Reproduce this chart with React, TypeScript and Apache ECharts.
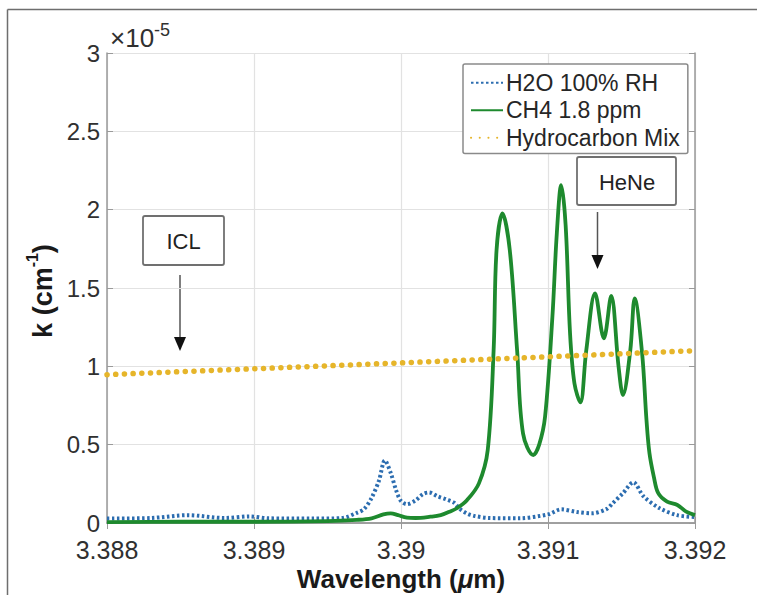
import React, { useEffect, useRef } from "react";
import * as echarts from "echarts";

// wavelength (µm) and absorption k (×1e-5 cm^-1)
const h2oWavelength = [3.388, 3.3883, 3.38855, 3.3888, 3.38897, 3.3891, 3.3894, 3.3896, 3.3897, 3.38975, 3.3898, 3.38985, 3.38989, 3.38993, 3.38997, 3.39, 3.39004, 3.3901, 3.39015, 3.39019, 3.39025, 3.39031, 3.39036, 3.3904, 3.39045, 3.3905, 3.3906, 3.3908, 3.3910, 3.39109, 3.3912, 3.3913, 3.3914, 3.39144, 3.39151, 3.39158, 3.39165, 3.39176, 3.39188, 3.392];
const h2oK = [0.028, 0.032, 0.05, 0.032, 0.042, 0.03, 0.028, 0.032, 0.065, 0.09, 0.16, 0.27, 0.4, 0.32, 0.2, 0.14, 0.12, 0.145, 0.185, 0.195, 0.17, 0.15, 0.13, 0.09, 0.06, 0.045, 0.032, 0.03, 0.055, 0.087, 0.07, 0.062, 0.09, 0.126, 0.19, 0.26, 0.17, 0.094, 0.05, 0.038];

const ch4Wavelength = [3.388, 3.3885, 3.389, 3.3895, 3.3897, 3.3898, 3.38988, 3.38993, 3.38998, 3.39004, 3.3901, 3.3902, 3.39027, 3.39033, 3.39038, 3.39045, 3.39053, 3.39059, 3.39063, 3.39065, 3.39069, 3.39074, 3.39079, 3.39083, 3.3909, 3.39094, 3.39098, 3.39103, 3.39106, 3.39109, 3.39112, 3.39115, 3.39118, 3.39122, 3.39126, 3.39132, 3.39138, 3.39143, 3.39148, 3.39151, 3.39156, 3.39159, 3.39164, 3.39167, 3.39169, 3.39172, 3.39175, 3.39181, 3.39188, 3.39194, 3.392];
const ch4K = [0.005, 0.008, 0.008, 0.012, 0.02, 0.03, 0.055, 0.062, 0.05, 0.035, 0.032, 0.04, 0.05, 0.072, 0.094, 0.147, 0.253, 0.466, 1.1, 1.742, 1.976, 1.742, 1.1, 0.572, 0.434, 0.5, 0.678, 1.317, 1.849, 2.157, 1.9, 1.21, 0.89, 0.77, 1.1, 1.466, 1.179, 1.449, 0.998, 0.817, 1.104, 1.434, 1.085, 0.657, 0.447, 0.295, 0.19, 0.136, 0.115, 0.072, 0.05];

const hcWavelength = [3.388, 3.39, 3.392];
const hcK = [0.947, 1.022, 1.1];

const xTicks = { min: 3.388, max: 3.392, step: 0.001 };
const yTicks = { min: 0, max: 3, step: 0.5 };

const seriesNames = ["H2O 100% RH", "CH4 1.8 ppm", "Hydrocarbon Mix"];

const FONT = "'Liberation Sans', Arial, Helvetica, sans-serif";

const zip = (xs: number[], ys: number[]) => xs.map((x, i) => [x, ys[i]]);

export default function App() {
  const ref = useRef<HTMLDivElement>(null);
  useEffect(() => {
    if (!ref.current) return;
    const chart = echarts.init(ref.current, undefined, { renderer: "svg" });
    const axisColor = "#9a9a9a";
    const labelColor = "#303030";
    const baseAxis = {
      type: "value" as const,
      axisLine: { show: true, lineStyle: { color: axisColor, width: 1.5 } },
      axisTick: { show: true, inside: true, length: 6, lineStyle: { color: axisColor } },
    };
    chart.setOption({
      animation: false,
      backgroundColor: "#ffffff",
      grid: { left: 107, right: 62, top: 53, bottom: 72, containLabel: false },
      xAxis: [
        {
          ...baseAxis,
          min: xTicks.min,
          max: xTicks.max,
          interval: xTicks.step,
          position: "bottom",
          splitLine: { show: true, lineStyle: { color: "#e2e2e2", width: 1.2 } },
          axisLabel: {
            fontSize: 25,
            color: labelColor,
            fontFamily: FONT,
            margin: 16,
            lineHeight: 22,
            formatter: (v: number) => String(+v.toFixed(3)),
          },
        },
        {
          ...baseAxis,
          min: xTicks.min,
          max: xTicks.max,
          interval: xTicks.step,
          position: "top",
          splitLine: { show: false },
          axisLabel: { show: false },
        },
      ],
      yAxis: [
        {
          ...baseAxis,
          min: yTicks.min,
          max: yTicks.max,
          interval: yTicks.step,
          position: "left",
          splitLine: { show: true, lineStyle: { color: "#e2e2e2", width: 1.2 } },
          axisLabel: { fontSize: 24, color: labelColor, fontFamily: FONT, margin: 7, lineHeight: 22 },
        },
        {
          ...baseAxis,
          min: yTicks.min,
          max: yTicks.max,
          interval: yTicks.step,
          position: "right",
          splitLine: { show: false },
          axisLabel: { show: false },
        },
      ],
      legend: {
        orient: "vertical",
        left: 463,
        top: 64,
        padding: [6, 8, 3, 7],
        itemWidth: 32,
        itemHeight: 14,
        itemGap: 2,
        backgroundColor: "#ffffff",
        borderColor: "#8a8a8a",
        borderWidth: 1.5,
        borderRadius: 2,
        itemStyle: { opacity: 0 },
        textStyle: { fontSize: 23, color: "#262626", fontFamily: FONT, lineHeight: 25.5, padding: [0, 0, 0, -2] },
        data: seriesNames,
      },
      series: [
        {
          name: seriesNames[0],
          type: "line",
          data: zip(h2oWavelength, h2oK),
          symbol: "none",
          smooth: 0.3,
          lineStyle: { color: "#2c6db0", width: 4, type: [2.5, 2.5] },
          itemStyle: { color: "#2c6db0" },
        },
        {
          name: seriesNames[1],
          type: "line",
          data: zip(ch4Wavelength, ch4K),
          symbol: "none",
          smooth: 0.35,
          lineStyle: { color: "#1e8a2e", width: 3.8 },
          itemStyle: { color: "#1e8a2e" },
        },
        {
          name: seriesNames[2],
          type: "line",
          data: zip(hcWavelength, hcK),
          symbol: "none",
          lineStyle: { color: "#e6b52a", width: 5.5, type: [0.1, 8.6], cap: "round" },
          itemStyle: { color: "#e6b52a" },
        },
      ],
      graphic: [
        // figure frame
        { type: "line", shape: { x1: 7.5, y1: 9.5, x2: 757, y2: 9.5 }, style: { stroke: "#6e6e6e", lineWidth: 1.5 } },
        { type: "line", shape: { x1: 7.5, y1: 9.5, x2: 7.5, y2: 595 }, style: { stroke: "#6e6e6e", lineWidth: 1.5 } },
        // exponent
        {
          type: "text",
          x: 110,
          y: 36,
          style: {
            text: "{a|×10}{b|-5}",
            verticalAlign: "middle",
            rich: {
              a: { fontSize: 26, fontFamily: FONT, fill: labelColor, lineHeight: 30, verticalAlign: "bottom" },
              b: { fontSize: 18, fontFamily: FONT, fill: labelColor, lineHeight: 30, verticalAlign: "top" },
            },
          },
        },
        // y axis title
        {
          type: "text",
          x: 40,
          y: 291,
          rotation: Math.PI / 2,
          style: {
            text: "{a|k (cm}{b|-1}{a|)}",
            align: "center",
            verticalAlign: "middle",
            rich: {
              a: { fontSize: 27, fontWeight: "bold", fontFamily: FONT, fill: "#1a1a1a", lineHeight: 32, verticalAlign: "bottom" },
              b: { fontSize: 16, fontWeight: "bold", fontFamily: FONT, fill: "#1a1a1a", lineHeight: 32, verticalAlign: "top" },
            },
          },
        },
        // x axis title
        {
          type: "text",
          x: 401,
          y: 579,
          style: {
            text: "{a|Wavelength (}{i|μ}{a|m)}",
            align: "center",
            verticalAlign: "middle",
            rich: {
              a: { fontSize: 26, fontWeight: "bold", fontFamily: FONT, fill: "#1a1a1a", lineHeight: 24 },
              i: { fontSize: 26, fontWeight: "bold", fontStyle: "italic", fontFamily: FONT, fill: "#1a1a1a", lineHeight: 24 },
            },
          },
        },
        // ICL annotation
        { type: "rect", shape: { x: 143, y: 216, width: 81, height: 49, r: 2 }, style: { fill: "#ffffff", stroke: "#707070", lineWidth: 1.8 } },
        { type: "text", x: 183.5, y: 241, style: { text: "ICL", align: "center", verticalAlign: "middle", fontSize: 22, fontFamily: FONT, fill: "#222" } },
        { type: "line", shape: { x1: 180, y1: 275, x2: 180, y2: 342 }, style: { stroke: "#555", lineWidth: 1.5 } },
        { type: "polygon", shape: { points: [[174, 337], [186, 337], [180, 351]] }, style: { fill: "#111" } },
        // HeNe annotation
        { type: "rect", shape: { x: 577, y: 157, width: 99, height: 48, r: 2 }, style: { fill: "#ffffff", stroke: "#707070", lineWidth: 1.8 } },
        { type: "text", x: 627, y: 182, style: { text: "HeNe", align: "center", verticalAlign: "middle", fontSize: 22, fontFamily: FONT, fill: "#222" } },
        { type: "line", shape: { x1: 597.5, y1: 212, x2: 597.5, y2: 258 }, style: { stroke: "#555", lineWidth: 1.5 } },
        { type: "polygon", shape: { points: [[591.5, 255], [603.5, 255], [597.5, 269]] }, style: { fill: "#111" } },
      ],
    });
    return () => chart.dispose();
  }, []);
  return <div ref={ref} style={{ width: 757, height: 595, position: "absolute", left: 0, top: 0 }} />;
}
